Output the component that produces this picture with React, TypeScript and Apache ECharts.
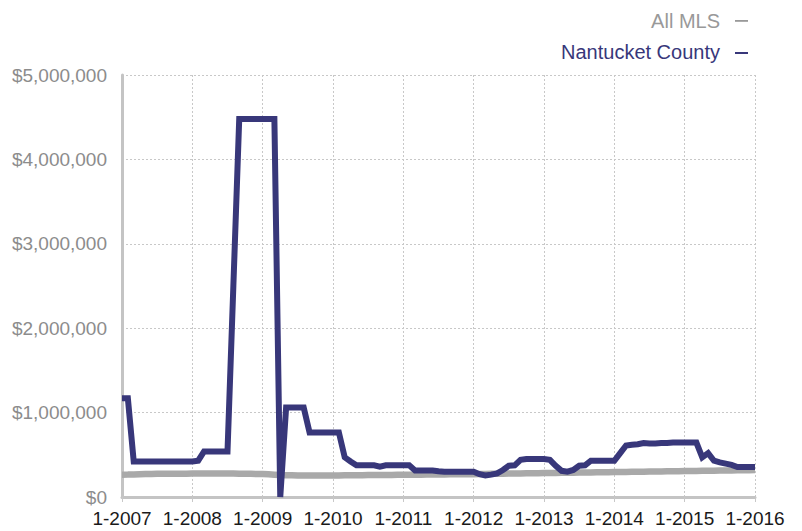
import React, { useEffect, useRef } from "react";
import * as echarts from "echarts";

const years = [2007, 2008, 2009, 2010, 2011, 2012, 2013, 2014, 2015, 2016];
const yTicks = [0, 1000000, 2000000, 3000000, 4000000, 5000000];

// monthly values, Jan 2007 .. Jan 2016 (in millions of dollars)
const nantucket = [
  1.17, 1.17, 0.42, 0.42, 0.42, 0.42, 0.42, 0.42, 0.42, 0.42, 0.42, 0.42,
  0.42, 0.43, 0.54, 0.54, 0.54, 0.54, 0.54, 2.5, 4.48, 4.48, 4.48, 4.48,
  4.48, 4.48, 4.48, 0, 1.06, 1.06, 1.06, 1.06, 0.765, 0.765, 0.765, 0.765,
  0.765, 0.765, 0.47, 0.42, 0.375, 0.375, 0.375, 0.375, 0.36, 0.375, 0.375, 0.375,
  0.375, 0.375, 0.315, 0.315, 0.315, 0.315, 0.305, 0.3, 0.3, 0.3, 0.3, 0.3,
  0.3, 0.27, 0.255, 0.265, 0.28, 0.32, 0.37, 0.375, 0.44, 0.45, 0.45, 0.45,
  0.45, 0.44, 0.37, 0.31, 0.3, 0.32, 0.37, 0.375, 0.43, 0.43, 0.43, 0.43,
  0.43, 0.52, 0.61, 0.62, 0.625, 0.64, 0.635, 0.635, 0.64, 0.64, 0.645, 0.645,
  0.645, 0.645, 0.645, 0.47, 0.52, 0.43, 0.41, 0.395, 0.38, 0.355, 0.355, 0.355,
  0.355,
];

const allMls = [
  0.265, 0.266, 0.268, 0.27, 0.272, 0.273, 0.274, 0.275, 0.275, 0.275, 0.276, 0.276,
  0.277, 0.277, 0.278, 0.278, 0.278, 0.278, 0.277, 0.277, 0.276, 0.275, 0.274, 0.273,
  0.272, 0.27, 0.265, 0.26, 0.258, 0.257, 0.256, 0.255, 0.255, 0.255, 0.255, 0.255,
  0.256, 0.256, 0.257, 0.258, 0.258, 0.259, 0.26, 0.26, 0.261, 0.262, 0.262, 0.263,
  0.263, 0.264, 0.265, 0.265, 0.266, 0.267, 0.267, 0.268, 0.269, 0.27, 0.27, 0.271,
  0.271, 0.272, 0.273, 0.274, 0.275, 0.276, 0.277, 0.278, 0.279, 0.28, 0.281, 0.282,
  0.283, 0.284, 0.285, 0.286, 0.287, 0.288, 0.289, 0.29, 0.291, 0.292, 0.293, 0.294,
  0.295, 0.296, 0.297, 0.298, 0.299, 0.3, 0.301, 0.302, 0.303, 0.304, 0.305, 0.306,
  0.307, 0.308, 0.309, 0.31, 0.311, 0.312, 0.313, 0.314, 0.315, 0.316, 0.317, 0.318,
  0.32,
];

const seriesNames = ["All MLS", "Nantucket County"];

const months: string[] = [];
years.forEach((y, i) => {
  const count = i === years.length - 1 ? 1 : 12;
  for (let m = 1; m <= count; m++) months.push(`${m}-${y}`);
});

const FONT = "Liberation Sans, Arial, Helvetica, sans-serif";
const NAVY = "#38377a";
const GRAY_LINE = "#a9a9a9";

function fmtMoney(v: number) {
  return "$" + v.toLocaleString("en-US");
}

export default function App() {
  const ref = useRef<HTMLDivElement>(null);
  useEffect(() => {
    document.body.style.margin = "0";
    if (!ref.current) return;
    const chart = echarts.init(ref.current, null, { renderer: "svg" });
    chart.setOption({
      animation: false,
      backgroundColor: "#ffffff",
      grid: { left: 122, right: 47, top: 75, bottom: 34, containLabel: false },
      graphic: [
        {
          type: "text",
          style: {
            text: seriesNames[0],
            x: 720,
            y: 21,
            textAlign: "right",
            textVerticalAlign: "middle",
            fill: "#999999",
            font: `20px ${FONT}`,
          },
        },
        {
          type: "rect",
          shape: { x: 735, y: 20, width: 13, height: 1.8 },
          style: { fill: "#999999" },
        },
        {
          type: "text",
          style: {
            text: seriesNames[1],
            x: 720,
            y: 52,
            textAlign: "right",
            textVerticalAlign: "middle",
            fill: NAVY,
            font: `20px ${FONT}`,
          },
        },
        {
          type: "rect",
          shape: { x: 735, y: 52, width: 13, height: 2 },
          style: { fill: NAVY },
        },
      ],
      xAxis: {
        type: "category",
        data: months,
        boundaryGap: false,
        axisLine: { show: true, lineStyle: { color: "#c4c4c4", width: 3 } },
        axisTick: {
          show: true,
          interval: 11,
          length: 5,
          lineStyle: { color: "#c8c8c8", width: 1 },
        },
        axisLabel: {
          interval: 11,
          color: "#1a1a1a",
          fontSize: 19,
          fontFamily: FONT,
          margin: 12,
        },
        splitLine: {
          show: true,
          interval: 11,
          lineStyle: { color: "#c8c8c8", type: [2, 2], width: 1 },
        },
      },
      yAxis: {
        type: "value",
        min: yTicks[0],
        max: yTicks[yTicks.length - 1],
        interval: 1000000,
        axisLine: { show: true, lineStyle: { color: "#c4c4c4", width: 3 } },
        axisTick: { show: false },
        axisLabel: {
          color: "#8c8c8c",
          fontSize: 19,
          fontFamily: FONT,
          margin: 15,
          formatter: (v: number) => fmtMoney(v),
        },
        splitLine: {
          show: true,
          lineStyle: { color: "#c8c8c8", type: [2, 2], width: 1 },
        },
      },
      series: [
        {
          name: seriesNames[0],
          type: "line",
          data: allMls.map((v) => Math.round(v * 1000000)),
          symbol: "none",
          lineStyle: { color: GRAY_LINE, width: 6.5 },
          itemStyle: { color: GRAY_LINE },
          z: 2,
        },
        {
          name: seriesNames[1],
          type: "line",
          data: nantucket.map((v) => Math.round(v * 1000000)),
          symbol: "none",
          lineStyle: { color: NAVY, width: 6, join: "miter" },
          itemStyle: { color: NAVY },
          z: 3,
        },
      ],
    });
    return () => chart.dispose();
  }, []);
  return <div ref={ref} style={{ width: 802, height: 531 }} />;
}
